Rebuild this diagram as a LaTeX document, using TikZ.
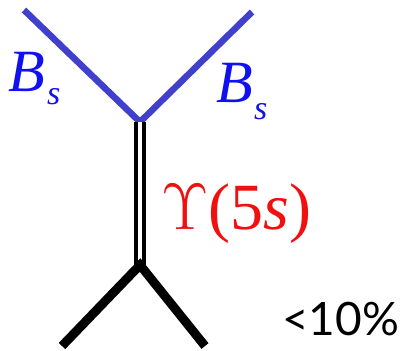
\RequirePackage{fix-cm}
\documentclass[tikz,border=0pt]{standalone}
\usepackage{fontspec}
\setmainfont{Liberation Serif}
\newfontfamily\pctfont{Lato}
\definecolor{lineblue}{RGB}{64,64,204}
\definecolor{textblue}{RGB}{16,16,240}
\definecolor{textred}{RGB}{240,16,16}
\tikzset{
  bline/.style={draw=lineblue, line width=6.5pt},
  kline/.style={draw=black, line width=9pt},
  dline/.style={draw=black, double=white, double distance=4pt, line width=4pt},
  lbl/.style={anchor=base west, inner sep=0pt, outer sep=0pt}
}
\begin{document}
\begin{tikzpicture}[x=1pt,y=1pt]
\useasboundingbox (0,0) rectangle (406,350);
\coordinate (tl) at (24,340);
\coordinate (tr) at (252,338);
\coordinate (v) at (140,228);
\coordinate (w) at (140,85);
\coordinate (bl) at (62,4);
\coordinate (br) at (205,4);
\draw[bline] (tl) -- (v) -- (tr);
\draw[dline] (v) -- (w);
\draw[kline] (bl) -- (w) -- (br);
\node[lbl, text=textblue, font=\fontsize{60}{60}\selectfont\itshape] (b1) at (9,258) {B};
\node[lbl, text=textblue, font=\fontsize{34}{34}\selectfont\itshape] (s1) at (47,245) {s};
\node[lbl, text=textblue, font=\fontsize{60}{60}\selectfont\itshape] (b2) at (216,247) {B};
\node[lbl, text=textblue, font=\fontsize{34}{34}\selectfont\itshape] (s2) at (254,230) {s};
\node[lbl, text=textred, font=\fontsize{66}{66}\selectfont] (ups) at (161,120) {$\Upsilon$(5\textit{s})};
\node[lbl, font=\fontsize{46}{46}\selectfont\pctfont] (pct) at (282,14) {<10\%};
\end{tikzpicture}
\end{document}
